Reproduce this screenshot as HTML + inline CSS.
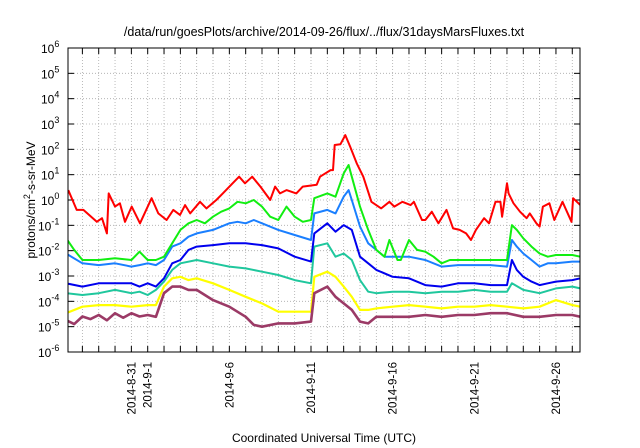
<!DOCTYPE html>
<html><head><meta charset="utf-8"><style>
html,body{margin:0;padding:0;background:#fff;}
svg{display:block;font-family:"Liberation Sans",sans-serif;}
</style></head><body>
<svg id="chart" width="640" height="448" viewBox="0 0 640 448" xmlns="http://www.w3.org/2000/svg">
<rect width="640" height="448" fill="#fff"/>
<text x="324" y="36" font-size="12.5" text-anchor="middle" fill="#000">/data/run/goesPlots/archive/2014-09-26/flux/../flux/31daysMarsFluxes.txt</text>
<g id="grid"></g>
<g id="axes"></g>
<defs><clipPath id="pc"><rect x="68" y="48" width="512" height="304"/></clipPath></defs>
<g id="series" clip-path="url(#pc)"></g>
<rect x="68" y="48" width="512" height="304" fill="none" stroke="#000" stroke-width="1"/>
<text transform="translate(35,200) rotate(-90)" font-size="12" text-anchor="middle">protons/cm<tspan dy="-5" font-size="9">2</tspan><tspan dy="5">-s-sr-MeV</tspan></text>
<text x="324" y="442" font-size="12" text-anchor="middle">Coordinated Universal Time (UTC)</text>
</svg>
<script>
// x values: days relative to 2014-09-01; y values: log10(flux)
const tickDays = [-1, 0, 5, 10, 15, 20, 25];
const tickLabels = ["2014-8-31","2014-9-1","2014-9-6","2014-9-11","2014-9-16","2014-9-21","2014-9-26"];
const decades = [-6,-5,-4,-3,-2,-1,0,1,2,3,4,5,6];

const redDays = [-4.86,-4.35,-3.94,-3.12,-2.8,-2.5,-2.39,-2,-1.7,-1.39,-0.98,-0.47,0.24,0.65,1.16,1.57,1.98,2.29,2.6,3.2,3.6,4.2,4.6,5.2,5.6,5.96,6.4,6.9,7.5,7.8,8.1,8.5,9.1,9.5,10.35,10.55,11.2,11.35,11.45,11.8,12.1,12.4,12.8,13.2,13.7,14.3,14.8,15.1,15.6,16.1,16.3,16.8,17.0,17.4,17.8,18.3,18.7,19.1,19.5,19.8,20.1,20.6,20.9,21.3,21.6,21.7,22.0,22.1,22.4,22.8,23.2,23.4,23.8,24.0,24.2,24.6,24.9,25.4,25.95,26.05,26.5];
const redLog = [0.39,-0.39,-0.39,-0.86,-0.72,-1.32,0.26,-0.26,-0.13,-0.86,-0.26,-0.92,0.07,-0.53,-0.79,-0.39,-0.59,-0.2,-0.53,-0.07,-0.33,0,0.26,0.66,0.92,0.66,0.92,0.53,0,0.53,0.26,0.39,0.26,0.53,0.6,0.92,1.18,1.18,2.17,2.2,2.56,2.1,1.45,0.92,-0.07,-0.33,-0.07,-0.26,-0.07,-0.2,-0.07,-0.79,-0.79,-0.46,-0.92,-0.39,-1.12,-1.18,-1.32,-1.58,-1.18,-0.72,-0.92,-0.07,-0.07,-0.66,0.66,0.26,-0.13,-0.46,-0.72,-0.53,-0.92,-1.05,-0.26,-0.13,-0.79,-0.07,-0.86,0.07,-0.2];

const greenDays = [-5,-4.5,-4,-3,-2,-1,-0.5,0,0.5,1,1.5,2,2.5,3,3.5,4,4.5,5,5.5,6,6.5,7,7.5,8,8.5,9,9.5,10,10.2,11,11.5,12,12.3,12.5,13,13.5,14,14.5,14.8,15.3,15.5,16,16.5,17,17.5,18,18.5,19,20,21,22,22.3,22.6,23,23.5,24,24.5,25,26,26.5];
const greenLog = [-1.5,-1.97,-2.37,-2.37,-2.3,-2.37,-2.04,-2.37,-2.37,-2.24,-1.71,-1.18,-0.92,-0.79,-0.92,-0.66,-0.46,-0.33,-0.07,-0.13,0,-0.26,-0.66,-0.79,-0.26,-0.66,-0.86,-0.79,0.07,0.26,0.13,1.05,1.38,0.92,-0.26,-1.18,-1.97,-2.24,-1.58,-2.37,-2.37,-1.58,-1.97,-2.04,-2.24,-2.5,-2.37,-2.37,-2.37,-2.37,-2.37,-0.99,-1.18,-1.51,-1.84,-2.11,-2.24,-2.17,-2.17,-2.24];

const skyDays = [-5,-4,-3,-2,-1,-0.5,0,0.5,1,1.5,2,2.5,3,4,5,5.5,6,6.5,7,8,9,10,10.2,11,11.5,12,12.3,12.5,13,13.5,14,14.5,15,16,17,18,19,20,21,22,22.3,22.6,23,23.5,24,24.5,25,26,26.5];
const skyLog = [-2.11,-2.5,-2.57,-2.5,-2.63,-2.57,-2.5,-2.57,-2.37,-1.84,-1.71,-1.45,-1.32,-1.18,-0.92,-0.86,-0.92,-0.79,-0.92,-1.18,-1.38,-1.58,-0.53,-0.39,-0.53,0.13,0.39,0,-1.05,-1.71,-1.97,-2.24,-2.24,-2.24,-2.37,-2.63,-2.57,-2.57,-2.57,-2.63,-1.58,-1.84,-2.11,-2.37,-2.63,-2.5,-2.5,-2.43,-2.43];

const blueDays = [-5,-4,-3,-2,-1,-0.5,0,0.5,1,1.5,2,2.5,3,4,5,6,7,8,9,10,10.2,11,11.5,12,12.5,13,13.5,14,15,16,17,18,19,20,21,22,22.3,22.6,23,23.5,24,24.5,25,26,26.5];
const blueLog = [-3.29,-3.42,-3.29,-3.29,-3.29,-3.42,-3.29,-3.42,-3.09,-2.5,-2.37,-1.97,-1.84,-1.78,-1.71,-1.71,-1.78,-1.91,-2.24,-2.43,-1.32,-0.92,-1.25,-0.99,-1.18,-2.24,-2.5,-2.76,-3.03,-3.09,-3.36,-3.42,-3.29,-3.29,-3.36,-3.36,-2.37,-2.76,-3.03,-3.22,-3.36,-3.29,-3.22,-3.16,-3.09];

const tealDays = [-5,-4,-3,-2,-1,-0.5,0,0.5,1,1.5,2,3,4,5,6,7,8,9,10,10.2,11,11.5,12,12.5,13,13.5,14,15,16,17,18,19,20,21,22,22.3,23,24,25,26,26.5];
const tealLog = [-3.68,-3.75,-3.68,-3.55,-3.68,-3.62,-3.75,-3.55,-3.22,-2.76,-2.5,-2.37,-2.5,-2.63,-2.7,-2.83,-2.96,-3.16,-3.29,-1.84,-1.71,-2.24,-2.11,-2.37,-3.16,-3.62,-3.68,-3.62,-3.62,-3.68,-3.62,-3.62,-3.55,-3.62,-3.62,-3.29,-3.55,-3.68,-3.49,-3.42,-3.49];

const yellowDays = [-5,-4,-3,-2,-1,0,0.5,1,1.5,2,2.5,3,4,5,6,7,8,9,10,10.2,11,11.5,12,12.5,13,13.5,14,15,16,17,18,19,20,21,22,23,24,25,26,26.5];
const yellowLog = [-4.47,-4.21,-4.15,-4.15,-4.21,-4.15,-4.15,-3.42,-3.09,-3.03,-3.16,-3.09,-3.29,-3.55,-3.82,-4.08,-4.41,-4.41,-4.41,-3.03,-2.83,-3.03,-3.42,-3.82,-4.34,-4.34,-4.28,-4.21,-4.15,-4.21,-4.28,-4.21,-4.21,-4.15,-4.21,-4.28,-4.21,-3.95,-4.15,-4.21];

const purpleDays = [-5,-4.5,-4,-3.5,-3,-2.5,-2,-1.5,-1,-0.5,0,0.5,1,1.5,2,2.5,3,4,5,6,6.5,7,8,9,10,10.2,11,11.5,12,12.5,13,13.5,14,15,16,17,18,19,20,21,22,23,24,25,26,26.5];
const purpleLog = [-4.74,-4.9,-4.6,-4.7,-4.54,-4.75,-4.47,-4.65,-4.47,-4.6,-4.54,-4.61,-3.68,-3.42,-3.42,-3.55,-3.55,-3.95,-4.21,-4.61,-4.93,-5.0,-4.87,-4.87,-4.8,-3.68,-3.42,-3.82,-4.08,-4.34,-4.8,-4.87,-4.61,-4.61,-4.61,-4.54,-4.61,-4.54,-4.54,-4.47,-4.47,-4.61,-4.61,-4.54,-4.54,-4.61];

const NS = "http://www.w3.org/2000/svg";
const X0 = 68, X1 = 580, Y0 = 48, Y1 = 352;
const dayPx = 16.33, day0 = 147.7;
function xScale(d){ return day0 + d * dayPx; }
function yScale(l){ return Y1 - (l + 6) * (Y1 - Y0) / 12; }
function mk(tag, parent){ const e = document.createElementNS(NS, tag); parent.appendChild(e); return e; }

const grid = document.getElementById('grid');
const axes = document.getElementById('axes');
// vertical grid and ticks every day
for (let d = -5; d <= 27; d++) {
  const x = xScale(d);
  if (x <= X0 + 0.5 || x >= X1 - 0.5) continue;
  const g = mk('line', grid);
  
  
  g.setAttribute('x1', x); g.setAttribute('x2', x); g.setAttribute('y1', Y0); g.setAttribute('y2', Y1);
  g.setAttribute('stroke', '#aaa'); g.setAttribute('stroke-width', '0.8'); g.setAttribute('stroke-dasharray', '1,2');
  for (const [a, b] of [[Y1, Y1 - 6], [Y0, Y0 + 6]]) {
    const t = mk('line', axes);
    
    
    t.setAttribute('x1', x); t.setAttribute('x2', x); t.setAttribute('y1', a); t.setAttribute('y2', b);
    t.setAttribute('stroke', '#000');
  }
}
tickDays.forEach((d, i) => {
  const x = xScale(d);
  const t = mk('text', axes);
  
  
  t.setAttribute('transform', 'translate(' + (x + 4) + ',362) rotate(-90)');
  t.setAttribute('font-size', '11.5');
  t.setAttribute('text-anchor', 'end');
  t.textContent = tickLabels[i];
});
decades.forEach(l => {
  const y = yScale(l);
  if (l > -6 && l < 6) {
    const g = mk('line', grid);
    
    
    g.setAttribute('x1', X0); g.setAttribute('x2', X1); g.setAttribute('y1', y); g.setAttribute('y2', y);
    g.setAttribute('stroke', '#aaa'); g.setAttribute('stroke-width', '0.8'); g.setAttribute('stroke-dasharray', '1,2');
  }
  for (const [a, b] of [[X0, X0 + 6], [X1, X1 - 6]]) {
    const t = mk('line', axes);
    
    
    t.setAttribute('x1', a); t.setAttribute('x2', b); t.setAttribute('y1', y); t.setAttribute('y2', y);
    t.setAttribute('stroke', '#000');
  }
  const lbl = mk('text', axes);
  
  
  lbl.setAttribute('x', 52); lbl.setAttribute('y', y + 5);
  lbl.setAttribute('font-size', '12'); lbl.setAttribute('text-anchor', 'end');
  lbl.textContent = '10';
  const sup = mk('tspan', lbl);
  sup.setAttribute('font-size', '9'); sup.setAttribute('dy', '-6');
  sup.textContent = String(l).replace('-', '-');
  sup.setAttribute('dx', '0');
  lbl.setAttribute('text-anchor', 'start');
  lbl.setAttribute('x', l < 0 ? 38 : 41);
});

const seriesG = document.getElementById('series');
function drawSeries(days, logs, color, width, name){
  const p = mk('polyline', seriesG);
  
  
  p.setAttribute('points', days.map((d, i) => xScale(d).toFixed(1) + ',' + yScale(logs[i]).toFixed(1)).join(' '));
  p.setAttribute('fill', 'none'); p.setAttribute('stroke', color);
  p.setAttribute('stroke-width', width); p.setAttribute('stroke-linejoin', 'round');
}
drawSeries(tealDays, tealLog, '#1fc79d', 2, 'teal-series');
drawSeries(yellowDays, yellowLog, '#ffff00', 2.2, 'yellow-series');
drawSeries(purpleDays, purpleLog, '#9b3a66', 2.6, 'purple-series');
drawSeries(blueDays, blueLog, '#0000ee', 2, 'blue-series');
drawSeries(skyDays, skyLog, '#1a7fff', 2, 'skyblue-series');
drawSeries(greenDays, greenLog, '#11ee11', 2, 'green-series');
drawSeries(redDays, redLog, '#ff0000', 2, 'red-series');
</script>
</body></html>
